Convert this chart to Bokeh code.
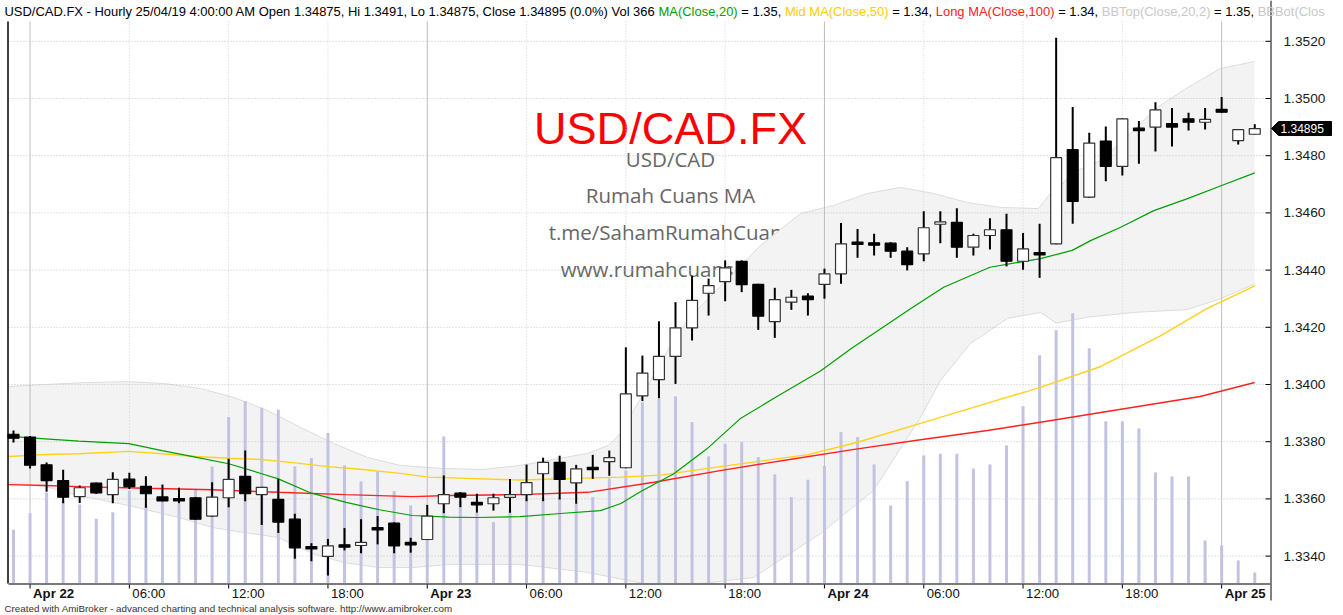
import glob, os
from bokeh.plotting import figure
from bokeh.models import Range1d
from bokeh.core.properties import value
from bokeh.embed import file_html
from bokeh.resources import INLINE

# ---------------- data ----------------
hour = list(range(76))   # hourly bars, 21 Apr 23:00 .. 25 Apr 02:00
open_ = [1.33826,1.33816,1.33719,1.33664,1.33608,1.33655,1.33615,1.33669,1.33644,1.33607,
         1.33598,1.33604,1.33540,1.33604,1.33679,1.33615,1.33598,1.33529,1.33430,1.33399,
         1.33437,1.33437,1.33497,1.33515,1.33445,1.33458,1.33583,1.33620,1.33585,1.33583,
         1.33605,1.33615,1.33688,1.33728,1.33656,1.33708,1.33730,1.33709,1.33960,1.34017,
         1.34098,1.34198,1.34319,1.34360,1.34431,1.34350,1.34220,1.34288,1.34309,1.34350,
         1.34387,1.34496,1.34493,1.34494,1.34466,1.34457,1.34563,1.34567,1.34480,1.34521,
         1.34541,1.34431,1.34459,1.34492,1.34821,1.34655,1.34851,1.34763,1.34894,1.34900,
         1.34912,1.34929,1.34917,1.34962,1.34853,1.34875]
high = [1.33839,1.33820,1.33727,1.33702,1.33647,1.33657,1.33693,1.33691,1.33679,1.33650,
        1.33639,1.33606,1.33658,1.33740,1.33769,1.33642,1.33670,1.33548,1.33445,1.33460,
        1.33498,1.33529,1.33540,1.33518,1.33464,1.33579,1.33682,1.33624,1.33618,1.33618,
        1.33670,1.33720,1.33744,1.33751,1.33719,1.33754,1.33769,1.34130,1.34101,1.34221,
        1.34288,1.34381,1.34370,1.34434,1.34434,1.34352,1.34338,1.34331,1.34319,1.34405,
        1.34565,1.34544,1.34527,1.34497,1.34480,1.34606,1.34606,1.34616,1.34527,1.34581,
        1.34597,1.34530,1.34562,1.35212,1.34970,1.34880,1.34902,1.34931,1.34921,1.34987,
        1.34967,1.34950,1.34967,1.35005,1.34893,1.34910]
low = [1.33797,1.33706,1.33625,1.33585,1.33586,1.33617,1.33585,1.33635,1.33569,1.33592,
       1.33585,1.33527,1.33538,1.33571,1.33592,1.33509,1.33481,1.33391,1.33382,1.33332,
       1.33420,1.33410,1.33441,1.33410,1.33412,1.33456,1.33550,1.33571,1.33552,1.33559,
       1.33552,1.33592,1.33592,1.33598,1.33583,1.33670,1.33681,1.33707,1.33942,1.33952,
       1.34002,1.34154,1.34241,1.34291,1.34323,1.34191,1.34163,1.34261,1.34241,1.34300,
       1.34352,1.34443,1.34451,1.34443,1.34399,1.34431,1.34494,1.34443,1.34451,1.34472,
       1.34413,1.34401,1.34373,1.34490,1.34562,1.34652,1.34711,1.34731,1.34772,1.34815,
       1.34832,1.34888,1.34892,1.34950,1.34839,1.34875]
close = [1.33812,1.33718,1.33664,1.33606,1.33639,1.33621,1.33668,1.33643,1.33618,1.33593,
         1.33596,1.33529,1.33606,1.33668,1.33618,1.33640,1.33519,1.33429,1.33428,1.33436,
         1.33434,1.33448,1.33494,1.33436,1.33442,1.33540,1.33615,1.33606,1.33582,1.33604,
         1.33615,1.33657,1.33728,1.33668,1.33705,1.33705,1.33744,1.33967,1.34040,1.34098,
         1.34198,1.34294,1.34346,1.34408,1.34349,1.34239,1.34297,1.34305,1.34297,1.34387,
         1.34492,1.34492,1.34490,1.34466,1.34419,1.34548,1.34566,1.34480,1.34521,1.34541,
         1.34431,1.34474,1.34455,1.34793,1.34640,1.34844,1.34763,1.34929,1.34890,1.34960,
         1.34900,1.34917,1.34927,1.34952,1.34891,1.34895]
volume = [1790,2340,3030,2760,2630,2155,2374,3097,2597,2764,
          2664,3154,3896,5538,6070,5851,5784,3896,4172,5005,
          3929,3397,3730,3074,2597,2098,4895,2764,2364,2041,
          2431,2830,2830,2864,2664,2874,3497,3763,6027,6160,
          6227,5371,4229,4652,4705,4206,3630,2874,3453,3906,
          5038,4872,3963,2597,3407,4262,4319,4319,3820,3963,
          4595,5894,7592,8425,8991,7826,5395,5395,5162,3696,
          3563,3563,1432,1265,766,366]

ma20_t = [-0.30,0.0,1.93,3.95,6.97,8.98,10.99,13.0,15.0,16.0,18.0,20.1,22.1,24.1,26.3,28.0,30.6,
          33.05,35.47,36.7,37.9,39.9,41.9,43.9,45.9,48.76,50.6,54.2,56.2,59.0,62.05,63.97,65.08,
          66.9,68.9,70.9,73.0,75.0]
ma20_v = [1.33820,1.33818,1.33810,1.33802,1.33793,1.33769,1.33746,1.33723,1.33688,1.33670,1.33620,
          1.33588,1.33562,1.33542,1.33536,1.33535,1.33538,1.33549,1.33559,1.33584,1.33626,1.33688,
          1.33775,1.33880,1.33950,1.34047,1.34125,1.34265,1.34340,1.34410,1.34440,1.34469,1.34503,
          1.34550,1.34608,1.34649,1.34696,1.34740]
ma50_t = [-0.30,1.93,3.93,6.95,8.98,11.0,13.0,15.0,17.0,19.0,21.1,23.1,25.1,30.6,36.7,39.1,42.7,
          48.0,51.0,54.8,56.8,62.05,65.7,69.3,72.1,75.0]
ma50_v = [1.33748,1.33755,1.33758,1.33766,1.33758,1.33748,1.33742,1.33738,1.33726,1.33713,1.33703,
          1.33691,1.33676,1.33666,1.33676,1.33683,1.33713,1.33755,1.33798,1.33864,1.33899,1.33990,
          1.34063,1.34170,1.34265,1.34345]
ma100_t = [-0.30,1.93,3.93,7.98,12.0,16.0,20.06,24.1,26.3,30.6,34.7,38.7,42.7,46.8,50.8,54.8,
           58.85,62.05,65.7,71.7,75.0]
ma100_v = [1.33650,1.33647,1.33643,1.33637,1.33632,1.33623,1.33615,1.33608,1.33612,1.33615,1.33623,
           1.33658,1.33699,1.33737,1.33773,1.33807,1.33839,1.33868,1.33902,1.33958,1.34007]
bbtop_t = [-0.30,1.93,4.47,6.95,9.18,11.30,13.29,15.35,17.34,19.34,21.39,23.38,25.98,28.40,30.63,
           34.68,35.95,36.68,37.89,38.91,39.88,40.91,42.72,45.14,47.55,49.55,51.60,53.60,55.59,
           57.64,59.64,61.93,62.66,64.29,65.68,67.67,69.12,70.94,72.93,74.98]
bbtop_v = [1.33993,1.34000,1.34007,1.34010,1.34003,1.33986,1.33955,1.33909,1.33850,1.33794,1.33745,
           1.33717,1.33706,1.33703,1.33717,1.33759,1.33787,1.33829,1.33951,1.34056,1.34154,1.34238,
           1.34343,1.34486,1.34598,1.34626,1.34668,1.34689,1.34668,1.34636,1.34619,1.34615,1.34668,
           1.34748,1.34783,1.34888,1.34969,1.35038,1.35105,1.35129]
bbbot_t = [-0.30,1.93,3.93,6.95,9.97,12.02,14.32,16.01,18.07,19.94,22.05,24.11,26.40,30.63,34.68,
           38.07,41.51,44.71,48.76,51.96,54.80,56.01,57.82,60.06,62.05,63.0,65.0,67.67,70.94,72.93,74.98]
bbbot_v = [1.33657,1.33643,1.33612,1.33577,1.33535,1.33500,1.33479,1.33465,1.33409,1.33378,1.33360,
           1.33360,1.33371,1.33371,1.33343,1.33294,1.33297,1.33325,1.33479,1.33629,1.33885,1.34014,
           1.34143,1.34231,1.34252,1.34215,1.34236,1.34252,1.34262,1.34300,1.34351]

price_ticks = [1.3340,1.3360,1.3380,1.3400,1.3420,1.3440,1.3460,1.3480,1.3500,1.3520]
price_labels = ["%.4f" % t for t in price_ticks]
time_tick_pos = [1,7,13,19,25,31,37,43,49,55,61,67,73]
time_tick_labels = ["Apr 22","06:00","12:00","18:00","Apr 23","06:00","12:00","18:00",
                    "Apr 24","06:00","12:00","18:00","Apr 25"]
day_ticks = [1,25,49,73]
hour6_ticks = [7,13,19,31,37,43,55,61,67]

title_segments = [
    ("USD/CAD.FX - Hourly 25/04/19 4:00:00 AM Open 1.34875, Hi 1.3491, Lo 1.34875, Close 1.34895 (0.0%) Vol 366 ", "#000000"),
    ("MA(Close,20)", "#00a000"),
    (" = 1.35, ", "#000000"),
    ("Mid MA(Close,50)", "#ffcc00"),
    (" = 1.34, ", "#000000"),
    ("Long MA(Close,100)", "#ff2020"),
    (" = 1.34, ", "#000000"),
    ("BBTop(Close,20,2)", "#c8c8c8"),
    (" = 1.35, ", "#000000"),
    ("BBBot(Clos", "#c8c8c8"),
]
watermark_big = "USD/CAD.FX"
watermark_lines = ["USD/CAD", "Rumah Cuans MA", "t.me/SahamRumahCuans", "www.rumahcuans.com"]
footer_text = "Created with AmiBroker - advanced charting and technical analysis software. http://www.amibroker.com"

# ---------------- fonts / measuring ----------------
def find_font(patterns):
    for pat in patterns:
        for root in ("/usr/share/fonts", "/usr/local/share/fonts", os.path.expanduser("~/.fonts")):
            hits = sorted(glob.glob(os.path.join(root, "**", pat), recursive=True))
            if hits:
                return hits[0]
    return None

try:
    from PIL import ImageFont
except Exception:
    ImageFont = None

SANS = "Liberation Sans"
SANS_PATH = find_font(["LiberationSans-Regular.ttf"])
OPEN = "Open Sans"
OPEN_PATH = find_font(["OpenSans-Regular.ttf", "OpenSans*.ttf"])

_cache = {}
def measure(s, path, size):
    if ImageFont is not None and path:
        try:
            if path not in _cache:
                _cache[path] = ImageFont.truetype(path, 100)
            return _cache[path].getlength(s) * size / 100.0
        except Exception:
            pass
    return len(s) * size * 0.52

def fit(s, path, target, lo, hi):
    w = measure(s, path, 100.0)
    sz = target * 100.0 / w if w > 0 else lo
    return max(lo, min(hi, sz))

# ---------------- geometry: the frame covers the whole canvas ----------------
W, H = 1343, 615
XOFF, PPX = 13.0, 16.55          # px of bar 0, px per hour
YREF, VREF, PPY = 98.0, 1.35, 28600.0
def X(px):
    return (px - XOFF) / PPX
def Y(py):
    return VREF - (py - YREF) / PPY
CL, CR, CT, CB = 8, 1270, 21, 583   # chart pane edges (px)

VOL_PER_PX = 366 / 11.0
p = figure(frame_width=W, frame_height=H, x_range=Range1d(X(0), X(W)), y_range=Range1d(Y(H), Y(0)),
           output_backend="svg", toolbar_location=None, min_border=0,
           x_axis_location=None, y_axis_location=None)
p.xgrid.visible = False
p.ygrid.visible = False
p.outline_line_color = None
p.background_fill_color = "white"
p.border_fill_color = "white"
p.extra_y_ranges = {"vol": Range1d(-(H - CB) * VOL_PER_PX, CB * VOL_PER_PX)}

# ---------------- watermark (drawn first, the band covers it) ----------------
big_size = fit(watermark_big, SANS_PATH, 273, 36, 60)
p.text(x=[X(670)], y=[Y(128)], text=[watermark_big], text_font=value(SANS),
       text_font_size=value("%.1fpx" % big_size), text_color="#ff0000",
       text_align="center", text_baseline="middle")
wm_size = fit("Rumah Cuans MA", OPEN_PATH, 170, 14, 24)
wm_y = [158, 194, 231, 268]
p.text(x=[X(670)] * 4, y=[Y(yy) for yy in wm_y], text=watermark_lines,
       text_font=value(OPEN), text_font_size=value("%.1fpx" % wm_size), text_color="#666666",
       text_align="center", text_baseline="middle")

# ---------------- Bollinger band ----------------
ybot = Y(CB)
bb_lo = [max(v, ybot) for v in bbbot_v]
p.patch(x=bbtop_t + bbbot_t[::-1], y=bbtop_v + bb_lo[::-1], fill_color="#f3f3f3", line_color=None)
p.line(bbtop_t, bbtop_v, line_color="#dcdcdc", line_width=1)
p.line(bbbot_t, bb_lo, line_color="#dcdcdc", line_width=1)

# ---------------- grid ----------------
n = len(price_ticks)
p.segment(x0=[X(CL)] * n, x1=[X(CR)] * n, y0=price_ticks, y1=price_ticks,
          line_color="#c4c4c4", line_width=1, line_dash="1 2")
p.segment(x0=hour6_ticks, x1=hour6_ticks, y0=[Y(CB)] * len(hour6_ticks), y1=[Y(CT)] * len(hour6_ticks),
          line_color="#d2d2d2", line_width=1, line_dash="1 2")
p.segment(x0=day_ticks, x1=day_ticks, y0=[Y(CB)] * len(day_ticks), y1=[Y(CT)] * len(day_ticks),
          line_color="#bdbdbd", line_width=1)

# ---------------- volume ----------------
p.vbar(x=hour, top=volume, bottom=0, width=0.18, y_range_name="vol",
       fill_color="#c2c2e2", line_color=None)

# ---------------- moving averages ----------------
p.line(ma100_t, ma100_v, line_color="#ff2020", line_width=1.4)
p.line(ma50_t, ma50_v, line_color="#ffd21a", line_width=1.4)
p.line(ma20_t, ma20_v, line_color="#00a000", line_width=1.2)

# ---------------- candles ----------------
min_h = 2.4 / PPY
b_top, b_bot, fills, lines = [], [], [], []
for o, c in zip(open_, close):
    t, b = max(o, c), min(o, c)
    if t - b < min_h:
        m = (t + b) / 2
        t, b = m + min_h / 2, m - min_h / 2
    b_top.append(t)
    b_bot.append(b)
    up = c >= o
    fills.append("white" if up else "black")
    lines.append("#333333" if up else "black")
p.segment(x0=hour, x1=hour, y0=low, y1=high, line_color="black", line_width=2)
p.vbar(x=hour, top=b_top, bottom=b_bot, width=0.66, fill_color=fills, line_color=lines,
       line_width=1.2)

# ---------------- axes (drawn on the same scales) ----------------
# left pane border
p.segment(x0=[X(CL - 0.5)], x1=[X(CL - 0.5)], y0=[Y(CB)], y1=[Y(CT)], line_color="black", line_width=1.5)
# right price axis
p.segment(x0=[X(CR + 0.5)], x1=[X(CR + 0.5)], y0=[Y(600)], y1=[Y(0)], line_color="black", line_width=1)
p.segment(x0=[X(CR - 5)] * n, x1=[X(CR)] * n, y0=price_ticks, y1=price_ticks,
          line_color="black", line_width=1)
ylab_size = fit("1.3520", SANS_PATH, 42, 11, 14)
p.text(x=[X(1283)] * n, y=price_ticks, text=price_labels, text_font=value(SANS),
       text_font_size=value("%.1fpx" % ylab_size), text_color="#1a1a1a",
       text_align="left", text_baseline="middle")
# time axis
p.segment(x0=[X(CL)], x1=[X(CR)], y0=[Y(CB + 0.5)], y1=[Y(CB + 0.5)], line_color="#7a7a7a", line_width=2)
m = len(time_tick_pos)
p.segment(x0=time_tick_pos, x1=time_tick_pos, y0=[Y(CB + 1)] * m, y1=[Y(CB + 5)] * m,
          line_color="black", line_width=1)
xl_size = fit("06:00", SANS_PATH, 33, 11, 14)
xl_x = [t + 3 / PPX for t in time_tick_pos]
normal = [i for i, l in enumerate(time_tick_labels) if not l.startswith("Apr")]
bold = [i for i, l in enumerate(time_tick_labels) if l.startswith("Apr")]
p.text(x=[xl_x[i] for i in normal], y=[Y(593)] * len(normal), text=[time_tick_labels[i] for i in normal],
       text_font=value(SANS), text_font_size=value("%.1fpx" % xl_size), text_color="#111111",
       text_align="left", text_baseline="middle")
p.text(x=[xl_x[i] for i in bold], y=[Y(593)] * len(bold), text=[time_tick_labels[i] for i in bold],
       text_font=value(SANS), text_font_size=value("%.1fpx" % xl_size), text_font_style="bold",
       text_color="#111111", text_align="left", text_baseline="middle")

# ---------------- title (multi-coloured) ----------------
title_size = fit(title_segments[0][0], SANS_PATH, 654, 10, 14)
cx = 4.0
tx, tt, tc = [], [], []
for seg, col in title_segments:
    lead = len(seg) - len(seg.lstrip(" "))
    tx.append(X(cx + measure(" " * lead, SANS_PATH, title_size)))
    tt.append(seg.strip(" "))
    tc.append(col)
    cx += measure(seg, SANS_PATH, title_size)
p.text(x=tx, y=[Y(10.5)] * len(tx), text=tt, text_color=tc, text_font=value(SANS),
       text_font_size=value("%.2fpx" % title_size), text_align="left", text_baseline="middle")

# ---------------- footer ----------------
ft_size = fit(footer_text, SANS_PATH, 448, 8, 11)
p.text(x=[X(4)], y=[Y(607.5)], text=[footer_text], text_font=value(SANS),
       text_font_size=value("%.1fpx" % ft_size), text_color="#333333",
       text_align="left", text_baseline="middle")

# ---------------- last price marker ----------------
last = close[-1]
p.patch(x=[X(1271), X(1278), X(1331), X(1331), X(1278)],
        y=[last, last + 7 / PPY, last + 7 / PPY, last - 7 / PPY, last - 7 / PPY],
        fill_color="black", line_color="black")
p.text(x=[X(1280)], y=[last], text=["%.5f" % last], text_font=value(SANS),
       text_font_size=value("12px"), text_color="white", text_align="left", text_baseline="middle")

open("out.html", "w").write(file_html(p, INLINE))
